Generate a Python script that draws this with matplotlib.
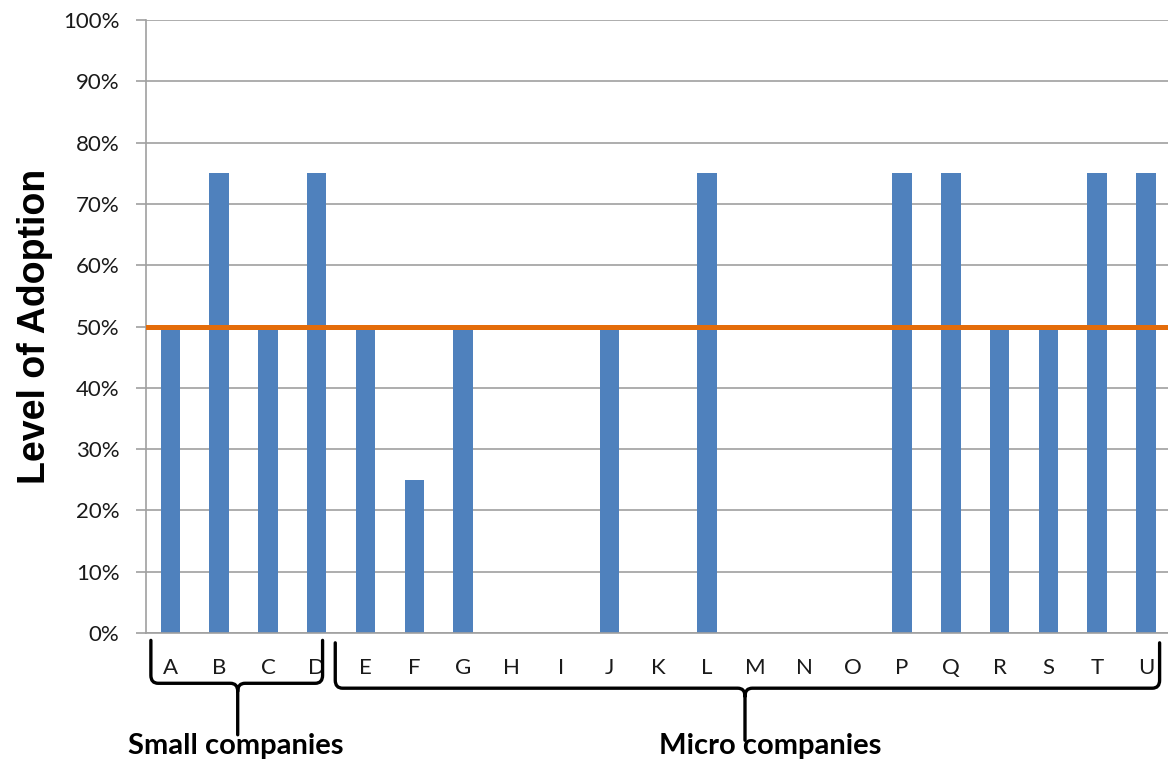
import matplotlib.pyplot as plt
from matplotlib.path import Path
from matplotlib.patches import PathPatch
from matplotlib.transforms import blended_transform_factory
from matplotlib.ticker import PercentFormatter

companies = list("ABCDEFGHIJKLMNOPQRSTU")
adoption = [0.50, 0.75, 0.50, 0.75, 0.50, 0.25, 0.50, 0.0, 0.0, 0.50, 0.0,
            0.75, 0.0, 0.0, 0.0, 0.75, 0.75, 0.50, 0.50, 0.75, 0.75]
threshold = 0.50

# company groups: (label, first index, last index)
groups = [("Small companies", 0, 3), ("Micro companies", 4, 20)]

plt.rcParams["font.family"] = ["Lato", "DejaVu Sans"]

fig = plt.figure(figsize=(11.68, 7.66), dpi=100)
ax = fig.add_axes([0.125, 0.1736, 0.877, 0.8003])

x = list(range(len(companies)))
ax.bar(x, adoption, width=0.4, color="#4F81BD", zorder=2)
ax.axhline(threshold, color="#E46C0A", lw=3.6, zorder=3)

ax.set_xlim(-0.5, len(companies) - 0.5)
ax.set_ylim(0, 1.0)
ax.set_yticks([i / 10 for i in range(11)])
ax.yaxis.set_major_formatter(PercentFormatter(1.0, decimals=0))
ax.set_xticks(x)
ax.set_xticklabels(companies)
ax.tick_params(axis="y", length=7, color="#A0A0A0", width=1.2,
               labelsize=16, labelcolor="#1a1a1a", pad=12)
ax.tick_params(axis="x", length=0, labelsize=16, labelcolor="#1a1a1a", pad=18)
ax.grid(axis="y", color="#A0A0A0", lw=1.2, zorder=0)
ax.set_axisbelow(True)
for s in ("top", "right"):
    ax.spines[s].set_visible(False)
for s in ("left", "bottom"):
    ax.spines[s].set_color("#A0A0A0")
    ax.spines[s].set_linewidth(1.2)

ax.set_ylabel("Level of Adoption", fontsize=27, fontweight="bold",
              family="Liberation Sans", labelpad=7)

# curly braces under the category axis
trans = blended_transform_factory(ax.transData, ax.transAxes)


def brace(x0, x1, xt, ytop, yh, ybot, rx=0.15, ry=0.013):
    verts = [(x0, ytop), (x0, yh + ry), (x0, yh), (x0 + rx, yh),
             (xt - rx, yh), (xt, yh), (xt, yh - ry), (xt, ybot),
             (xt, yh - ry), (xt, yh), (xt + rx, yh),
             (x1 - rx, yh), (x1, yh), (x1, yh + ry), (x1, ytop)]
    codes = [Path.MOVETO, Path.LINETO, Path.CURVE3, Path.CURVE3,
             Path.LINETO, Path.CURVE3, Path.CURVE3, Path.LINETO,
             Path.MOVETO, Path.CURVE3, Path.CURVE3,
             Path.LINETO, Path.CURVE3, Path.CURVE3, Path.LINETO]
    patch = PathPatch(Path(verts, codes), fill=False, lw=2.4, color="black",
                      transform=trans, clip_on=False, capstyle="round",
                      joinstyle="round")
    ax.add_patch(patch)


brace(-0.40, 3.12, 1.38, -0.012, -0.082, -0.166)
brace(3.38, 20.28, 11.78, -0.016, -0.090, -0.175)

ax.text(1.35, -0.198, groups[0][0], transform=trans, ha="center",
        va="baseline", fontsize=21, fontweight="bold")
ax.text(12.3, -0.198, groups[1][0], transform=trans, ha="center",
        va="baseline", fontsize=21, fontweight="bold")

fig.savefig("out.png", dpi=100)
